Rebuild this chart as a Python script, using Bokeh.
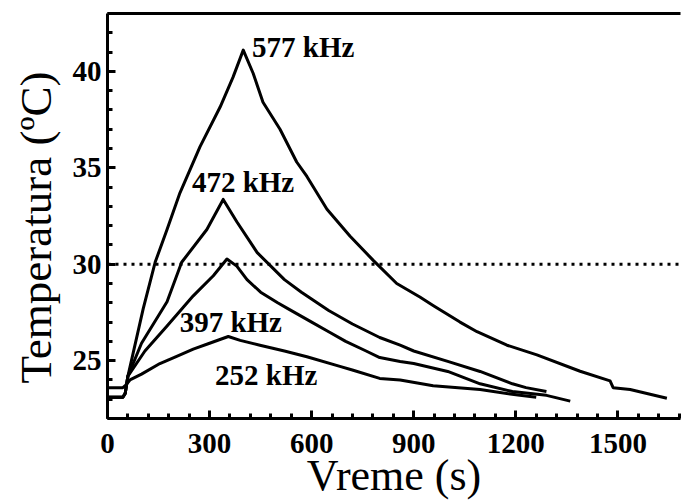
from bokeh.plotting import figure
from bokeh.models import Range1d, LinearAxis, Span, FixedTicker, ColumnDataSource, Title
from bokeh.core.properties import value
from bokeh.embed import file_html
from bokeh.resources import INLINE

# ---- data ----
t_577 = [0, 45, 52, 60, 105, 140, 175, 213, 272, 331, 369, 399,
         428, 457, 507, 556, 586, 645, 713, 781, 850, 918, 958, 1036,
         1086, 1174, 1262, 1389, 1477, 1486, 1536, 1644]
T_577 = [23.1, 23.1, 23.3, 24.2, 27.7, 30.1, 31.8, 33.7, 36.1, 38.15, 39.7, 41.1,
         39.9, 38.4, 37.0, 35.3, 34.55, 32.85, 31.45, 30.2, 29.0, 28.3, 27.85, 27.0,
         26.5, 25.8, 25.3, 24.45, 23.95, 23.6, 23.5, 23.05]

t_472 = [0, 45, 52, 60, 100, 175, 218, 292, 340, 380, 440, 480, 520, 570,
         650, 720, 800, 860, 900, 1000, 1095, 1190, 1230, 1290]
T_472 = [23.1, 23.1, 23.3, 24.2, 25.9, 28.05, 30.1, 31.8, 33.36, 32.2, 30.6, 29.9, 29.2, 28.55,
         27.6, 26.9, 26.2, 25.8, 25.5, 24.96, 24.44, 23.8, 23.6, 23.4]

t_397 = [0, 45, 52, 60, 110, 175, 252, 311, 351, 380, 410, 450, 500, 530,
         600, 650, 700, 760, 800, 860, 900, 1000, 1095, 1190, 1290, 1360]
T_397 = [23.1, 23.1, 23.3, 24.2, 25.5, 26.8, 28.36, 29.4, 30.27, 29.9, 29.2, 28.55, 28.0, 27.7,
         27.0, 26.5, 26.0, 25.5, 25.16, 24.96, 24.85, 24.44, 23.8, 23.4, 23.2, 22.9]

t_252 = [0, 45, 52, 66, 100, 154, 200, 252, 300, 355, 390, 448, 520, 586,
         683, 722, 800, 860, 957, 1095, 1212, 1260]
T_252 = [23.6, 23.6, 23.7, 24.0, 24.3, 24.85, 25.2, 25.6, 25.9, 26.25, 26.05, 25.8, 25.5, 25.2,
         24.7, 24.5, 24.08, 24.0, 23.7, 23.5, 23.2, 23.1]

label_text = ["577 kHz", "472 kHz", "397 kHz", "252 kHz"]
label_t = [425, 248, 212, 316]
label_T = [41.25, 34.25, 27.0, 24.25]

x_ticks = [0, 300, 600, 900, 1200, 1500]
y_ticks = [25, 30, 35, 40]
ref_T = 30
x_title = "Vreme (s)"
y_title = "Temperatura (ºC)"

SERIF = "Liberation Serif"

p = figure(width=681, height=502, output_backend="svg", toolbar_location=None,
           x_range=Range1d(0, 1684), y_range=Range1d(22, 43),
           min_border_left=107, min_border_right=1, min_border_top=13, min_border_bottom=82)
p.outline_line_color = None
p.xgrid.visible = False
p.ygrid.visible = False
p.background_fill_color = "white"
p.border_fill_color = "white"

for ax in (p.xaxis[0], p.yaxis[0]):
    ax.axis_line_width = 3
    ax.axis_line_color = "black"
    ax.major_tick_line_width = 3
    ax.minor_tick_line_width = 3
    ax.major_tick_in = 8
    ax.major_tick_out = 0
    ax.minor_tick_in = 5
    ax.minor_tick_out = 0
    ax.major_label_text_font = SERIF
    ax.major_label_text_font_style = "bold"
    ax.major_label_text_font_size = "29px"
    ax.major_label_text_color = "black"

p.xaxis[0].ticker = FixedTicker(ticks=x_ticks, minor_ticks=list(range(0, 1700, 60)))
p.yaxis[0].ticker = FixedTicker(ticks=y_ticks, minor_ticks=list(range(22, 44, 1)))
p.xaxis[0].major_label_standoff = 15
p.yaxis[0].major_label_standoff = 6

p.xaxis[0].axis_label = x_title
p.xaxis[0].axis_label_text_font = SERIF
p.xaxis[0].axis_label_text_font_style = "normal"
p.xaxis[0].axis_label_text_font_size = "44px"
p.xaxis[0].axis_label_text_color = "black"
p.xaxis[0].axis_label_standoff = -5

top = LinearAxis(axis_line_width=3, axis_line_color="black",
                 major_tick_line_color=None, minor_tick_line_color=None,
                 major_label_text_font_size="0px")
top.ticker = FixedTicker(ticks=[])
p.add_layout(top, "above")

ytitle = Title(text=y_title, align="left", offset=35, standoff=13, vertical_align="top",
               text_font=SERIF, text_font_size="45px", text_font_style="normal",
               text_color="black")
p.add_layout(ytitle, "left")

p.add_layout(Span(location=ref_T, dimension="width", line_color="black",
                  line_width=3, line_dash="3 5"))

for tx, ty in ((t_577, T_577), (t_472, T_472), (t_397, T_397), (t_252, T_252)):
    p.line(tx, ty, line_color="black", line_width=3, line_join="round")

src = ColumnDataSource(dict(x=label_t, y=label_T, text=label_text))
p.text(x="x", y="y", text="text", source=src, text_font=value(SERIF),
       text_font_style="bold", text_font_size="29px", text_color="black",
       text_baseline="middle", text_align="left")

open("out.html", "w").write(file_html(p, INLINE))
